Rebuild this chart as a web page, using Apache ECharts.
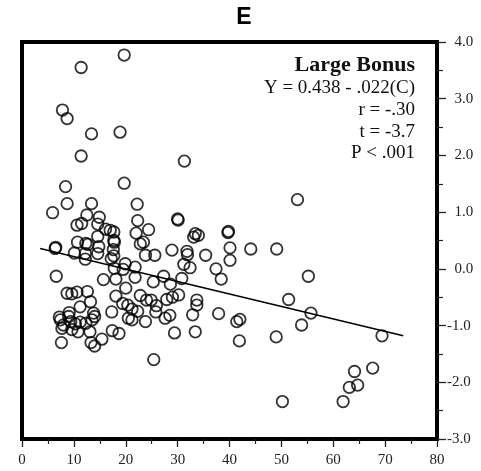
<!DOCTYPE html>
<html>
<head>
<meta charset="utf-8">
<script src="https://cdn.jsdelivr.net/npm/echarts@6/dist/echarts.min.js"></script>
<style>
html,body{margin:0;padding:0;background:#fff;}
#chart{width:481px;height:471px;}
</style>
</head>
<body>
<div id="chart"></div>
<script>
// Scatter values: X = C (concentration-like scale), Y = bonus score
const xVals = [
  19.7, 11.4, 7.8, 8.7, 13.4, 18.9, 11.4, 31.3, 8.4, 19.7, 53.1,
  5.9, 8.7, 13.4, 22.2, 12.5, 14.9, 22.3, 30.0, 30.1, 10.6, 11.5, 14.6,
  16.1, 17.0, 17.7, 22.0, 24.4, 14.6, 33.1, 33.4, 34.0, 39.8, 39.7, 17.7,
  10.7, 12.3, 12.7, 17.8, 14.8, 17.6, 22.8, 23.4, 6.5, 6.4, 10.1, 12.2,
  14.6, 17.7, 12.2, 17.2, 23.8, 25.6, 28.9, 31.8, 31.9, 35.4, 40.1, 44.1,
  49.1, 40.1, 19.9, 21.8, 17.8, 19.5, 31.2, 32.4, 37.4, 38.4, 6.6, 15.7,
  18.1, 21.8, 27.3, 30.8, 25.3, 28.6, 55.2, 20.0, 8.7, 9.6, 10.6, 12.6,
  18.1, 13.2, 22.8, 24.0, 24.9, 27.9, 29.0, 30.2, 33.7, 33.7, 51.4, 19.4,
  20.4, 21.2, 22.3, 25.9, 25.8, 11.2, 9.1, 13.8, 17.3, 7.2, 9.0, 14.0,
  7.4, 9.4, 10.3, 11.2, 12.3, 13.5, 20.5, 21.2, 23.8, 27.6, 28.5, 32.9,
  37.9, 41.4, 42.0, 55.7, 53.9, 8.0, 7.7, 9.6, 10.8, 13.1, 17.4, 18.7,
  29.4, 33.4, 41.9, 49.0, 69.4, 7.6, 13.3, 14.0, 15.4, 25.4, 64.1, 67.6,
  63.1, 64.7, 50.2, 61.9
];
const yVals = [
  3.77, 3.55, 2.80, 2.65, 2.38, 2.41, 1.99, 1.90, 1.45, 1.51, 1.22,
  0.99, 1.15, 1.15, 1.14, 0.95, 0.91, 0.85, 0.88, 0.86, 0.77, 0.80, 0.79,
  0.70, 0.68, 0.65, 0.63, 0.69, 0.57, 0.56, 0.62, 0.59, 0.66, 0.64, 0.50,
  0.47, 0.45, 0.43, 0.47, 0.39, 0.34, 0.44, 0.47, 0.38, 0.36, 0.28, 0.27,
  0.27, 0.23, 0.17, 0.18, 0.24, 0.24, 0.33, 0.31, 0.25, 0.24, 0.37, 0.35,
  0.35, 0.15, 0.09, 0.03, 0.01, -0.01, 0.08, 0.02, 0.00, -0.18, -0.13, -0.19,
  -0.18, -0.15, -0.13, -0.17, -0.23, -0.27, -0.13, -0.34, -0.43, -0.44, -0.41, -0.40,
  -0.48, -0.58, -0.47, -0.55, -0.55, -0.54, -0.50, -0.46, -0.55, -0.64, -0.54, -0.61,
  -0.64, -0.71, -0.75, -0.65, -0.76, -0.67, -0.77, -0.78, -0.76, -0.85, -0.84, -0.84,
  -0.90, -0.93, -0.97, -0.94, -0.96, -0.90, -0.87, -0.90, -0.93, -0.87, -0.82, -0.81,
  -0.79, -0.93, -0.89, -0.78, -0.99, -0.99, -1.05, -1.07, -1.11, -1.11, -1.09, -1.14,
  -1.13, -1.11, -1.27, -1.20, -1.18, -1.30, -1.30, -1.36, -1.24, -1.60, -1.81, -1.75,
  -2.09, -2.05, -2.34, -2.34
];
// Regression line end points
const lineX = [3.5, 73.5];
const lineY = [0.36, -1.18];

const titleText = 'E';
const annotTitle = 'Large Bonus';
const annotLines = ['Y = 0.438 - .022(C)', 'r = -.30', 't = -3.7', 'P < .001'];

const xAxisRange = [0, 80, 10];
const yAxisRange = [-3, 4, 1];

const points = xVals.map((x, i) => [x, yVals[i]]);
const linePts = lineX.map((x, i) => [x, lineY[i]]);

const chart = echarts.init(document.getElementById('chart'), null, {renderer: 'canvas'});

const serif = '"Liberation Serif", "DejaVu Serif", serif';

const graphics = [
  {
    type: 'text', x: 415, y: 65,
    style: {text: annotTitle, font: 'bold 22px ' + serif, fill: '#111', textAlign: 'right', textVerticalAlign: 'middle'}
  }
];
const lineYs = [88, 110.5, 132.5, 153.5];
annotLines.forEach((t, i) => {
  graphics.push({
    type: 'text', x: 415, y: lineYs[i],
    style: {text: t, font: '19px ' + serif, fill: '#111', textAlign: 'right', textVerticalAlign: 'middle'}
  });
});
graphics.push({
  type: 'text', x: 244, y: 18,
  style: {text: titleText, font: 'bold 23px "Liberation Sans", Arial, sans-serif', fill: '#000', textAlign: 'center', textVerticalAlign: 'middle'}
});

chart.setOption({
  animation: false,
  backgroundColor: '#fff',
  grid: {
    left: 22, right: 44, top: 42, bottom: 32,
    show: true, borderColor: '#000', borderWidth: 4, backgroundColor: 'transparent'
  },
  xAxis: {
    type: 'value', min: xAxisRange[0], max: xAxisRange[1], interval: xAxisRange[2],
    position: 'bottom',
    axisLine: {show: false, onZero: false},
    axisTick: {show: true, length: 8, inside: false, lineStyle: {color: '#222', width: 1.3}},
    minorTick: {show: true, splitNumber: 2, length: 5, lineStyle: {color: '#222', width: 1.2}},
    splitLine: {show: false},
    axisLabel: {margin: 14, fontFamily: serif, fontSize: 15, color: '#222'}
  },
  yAxis: {
    type: 'value', min: yAxisRange[0], max: yAxisRange[1], interval: yAxisRange[2],
    position: 'right',
    axisLine: {show: false, onZero: false},
    axisTick: {show: true, length: 9, inside: false, lineStyle: {color: '#222', width: 1.3}},
    minorTick: {show: true, splitNumber: 2, length: 6, lineStyle: {color: '#222', width: 1.2}},
    splitLine: {show: false},
    axisLabel: {
      margin: 10, fontFamily: serif, fontSize: 15, color: '#222', align: 'left',
      formatter: v => (v < 0 ? v.toFixed(1) : '\u2002' + v.toFixed(1))
    }
  },
  series: [
    {
      type: 'scatter',
      data: points,
      symbol: 'circle',
      symbolSize: 11.5,
      itemStyle: {color: 'rgba(0,0,0,0)', borderColor: '#000', borderWidth: 1.8},
      z: 3
    },
    {
      type: 'line',
      data: linePts,
      symbol: 'none',
      lineStyle: {color: '#000', width: 1.6},
      z: 4
    }
  ],
  graphic: graphics
});
</script>
</body>
</html>
